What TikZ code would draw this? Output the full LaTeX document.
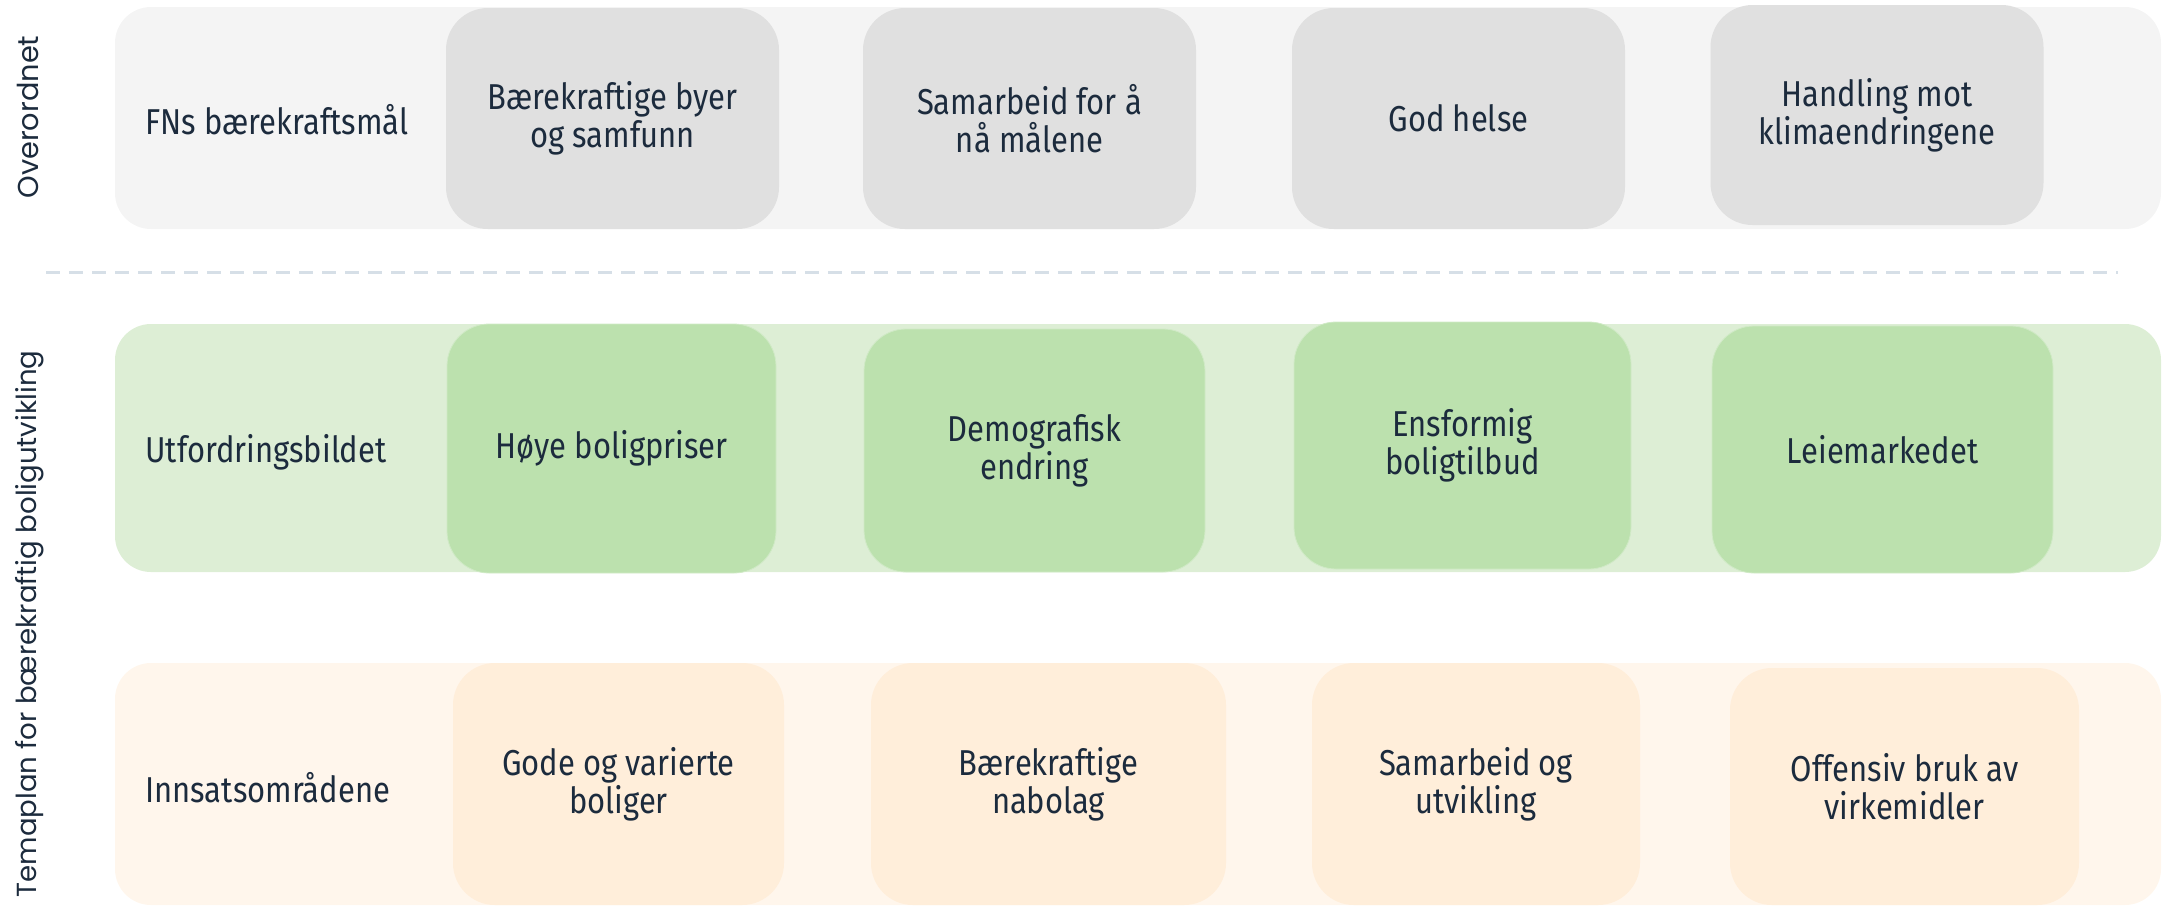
\documentclass[tikz,border=0pt]{standalone}
\usepackage{fontspec}
\setmainfont[FakeStretch=0.86]{Fira Sans}
\newfontfamily\sidefont{Poppins}
\definecolor{txt}{HTML}{1C2B3D}
\definecolor{bandgray}{HTML}{F4F4F4}
\definecolor{boxgray}{HTML}{E0E0E0}
\definecolor{bandgreen}{HTML}{DDEED5}
\definecolor{boxgreen}{HTML}{BCE1AE}
\definecolor{bandorange}{HTML}{FFF6EC}
\definecolor{boxorange}{HTML}{FFEEDA}
\definecolor{dashcol}{HTML}{D6DFE7}
\begin{document}
\begin{tikzpicture}[x=0.5pt,y=-0.5pt,
  band/.style={rounded corners=18pt, minimum width=1023pt, inner sep=0pt},
  card/.style={rounded corners=21pt, inner sep=0pt, align=center, text=txt, font=\fontsize{18}{19}\selectfont},
  rowlabel/.style={anchor=west, text=txt, font=\fontsize{18}{19}\selectfont, inner sep=0pt},
  sidelabel/.style={rotate=90, text=txt, font=\sidefont\fontsize{14.4}{16}\selectfont, inner sep=0pt}]
\useasboundingbox (0,0) rectangle (2165,907);
% bands
\node[band, fill=bandgray, minimum height=111pt] (b1) at (1138,118) {};
\node[band, fill=bandgreen, minimum height=124pt] (b2) at (1138,448) {};
\node[band, fill=bandorange, minimum height=121pt] (b3) at (1138,784) {};
% top row
\node[card, fill=boxgray, minimum width=166.5pt, minimum height=110.5pt] (t1) at (612.5,118.5) {Bærekraftige byer\\og samfunn};
\node[card, fill=boxgray, minimum width=166.5pt, minimum height=110.5pt] (t2) at (1029.5,118.5) {Samarbeid for å\\nå målene};
\node[card, fill=boxgray, minimum width=166.5pt, minimum height=110.5pt] (t3) at (1458.5,118.5) {God helse};
\node[card, fill=boxgray, minimum width=166.5pt, minimum height=110pt] (t4) at (1877,115) {Handling mot\\klimaendringene};
% green row
\node[card, fill=boxgreen, draw=boxgreen!70!white, minimum width=164.5pt, minimum height=124.5pt] (g1) at (611.5,448.5) {Høye boligpriser};
\node[card, fill=boxgreen, draw=boxgreen!70!white, minimum width=170.5pt, minimum height=121.5pt] (g2) at (1034.5,450.5) {Demografisk\\endring};
\node[card, fill=boxgreen, draw=boxgreen!70!white, minimum width=168.5pt, minimum height=123.5pt] (g3) at (1462.5,445.5) {Ensformig\\boligtilbud};
\node[card, fill=boxgreen, draw=boxgreen!70!white, minimum width=170.5pt, minimum height=123.5pt] (g4) at (1882.5,449.5) {Leiemarkedet};
% orange row
\node[card, fill=boxorange, minimum width=165.5pt, minimum height=121pt] (o1) at (618.5,784) {Gode og varierte\\boliger};
\node[card, fill=boxorange, minimum width=177.5pt, minimum height=121pt] (o2) at (1048.5,784) {Bærekraftige\\nabolag};
\node[card, fill=boxorange, minimum width=164pt, minimum height=121pt] (o3) at (1476,784) {Samarbeid og\\utvikling};
\node[card, fill=boxorange, minimum width=174.5pt, minimum height=118.5pt] (o4) at (1904.5,786.5) {Offensiv bruk av\\virkemidler};
% row labels
\node[rowlabel] (l1) at (145,120) {FNs bærekraftsmål};
\node[rowlabel] (l2) at (145,452) {Utfordringsbildet};
\node[rowlabel] (l3) at (145,788) {Innsatsområdene};
% side labels
\node[sidelabel] (s1) at (28,117) {Overordnet};
\node[sidelabel, font=\sidefont\fontsize{13.8}{16}\selectfont] (s2) at (30,624) {Temaplan for bærekraftig boligutvikling};
% separator
\coordinate (d1) at (46,272);
\coordinate (d2) at (2118,272);
\draw[dashcol, line width=1.5pt, dash pattern=on 7pt off 4.5pt] (d1) -- (d2);
\end{tikzpicture}
\end{document}
